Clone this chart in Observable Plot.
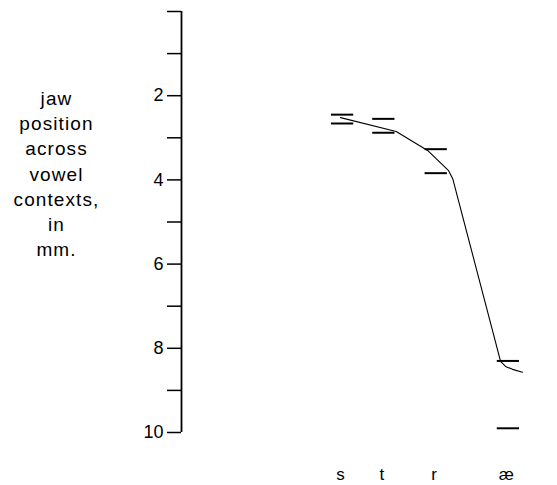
<!DOCTYPE html>
<html>
<head>
<meta charset="utf-8">
<script src="https://cdn.jsdelivr.net/npm/d3@7"></script>
<script src="https://cdn.jsdelivr.net/npm/@observablehq/plot@0.6"></script>
<style>
  html, body { margin: 0; padding: 0; background: #fff; }
  #chart { width: 557px; height: 485px; }
  #chart g[aria-label="text"] text { letter-spacing: 1.1px; }
</style>
</head>
<body>
<div id="chart"></div>
<script>
// Segments (x categories) and their positions along the time-like axis
const categories = ["s", "t", "r", "æ"];
const catPos = [0, 1, 2.27, 4.02];
// Range markers (upper and lower dash) for each segment, in mm
const upperMark = [2.45, 2.55, 3.27, 8.30];
const lowerMark = [2.66, 2.88, 3.84, 9.90];
// Traced jaw-position curve
const curveX = [0.0, 1.35, 2.11, 2.62, 2.72, 3.88, 4.0, 4.17, 4.41];
const curveY = [2.52, 2.85, 3.30, 3.78, 3.97, 8.31, 8.43, 8.50, 8.57];
// Y ticks
const yTicks = [0, 1, 2, 3, 4, 5, 6, 7, 8, 9, 10];
const yLabels = ["", "", "2", "", "4", "", "6", "", "8", "", "10"];
const titleLines = ["jaw", "position", "across", "vowel", "contexts,", "in", "mm."];

const marks = [];
categories.forEach((c, i) => {
  marks.push({cat: c, pos: catPos[i], v: upperMark[i]});
  marks.push({cat: c, pos: catPos[i], v: lowerMark[i]});
});
const curve = curveX.map((x, i) => ({x, y: curveY[i]}));

const font = "'Liberation Sans', Arial, Helvetica, sans-serif";

const chart = Plot.plot({
  width: 557,
  height: 485,
  marginLeft: 181,
  marginRight: 0,
  marginTop: 11,
  marginBottom: 53,
  style: {background: "#fff", color: "#000", fontFamily: font},
  x: {domain: [-3.855, 5.26], axis: null, label: null},
  y: {domain: [0, 10], reverse: true, axis: null, label: null},
  marks: [
    Plot.axisY({
      ticks: yTicks,
      tickFormat: (d) => yLabels[yTicks.indexOf(d)],
      tickSize: 14,
      tickPadding: 4,
      fontSize: 18,
      strokeWidth: 1.5,
      anchor: "left",
      label: null
    }),
    Plot.ruleX([-3.855], {y1: 0, y2: 10, strokeWidth: 1.8}),
    Plot.axisX({
      ticks: catPos,
      tickFormat: (d) => categories[catPos.indexOf(d)],
      tickSize: 0,
      tickPadding: 35,
      fontSize: 17,
      anchor: "bottom",
      label: null
    }),
    Plot.ruleY(marks, {y: "v", x1: (d) => d.pos - 0.22, x2: (d) => d.pos + 0.32, strokeWidth: 2}),
    Plot.line(curve, {x: "x", y: "y", strokeWidth: 1.1, curve: "linear"}),
    Plot.text([titleLines.join("\n")], {
      frameAnchor: "top-left",
      dx: -125,
      dy: 161,
      lineAnchor: "middle",
      textAnchor: "middle",
      lineHeight: 1.32,
      fontSize: 19
    })
  ]
});
document.getElementById("chart").appendChild(chart);
</script>
</body>
</html>
